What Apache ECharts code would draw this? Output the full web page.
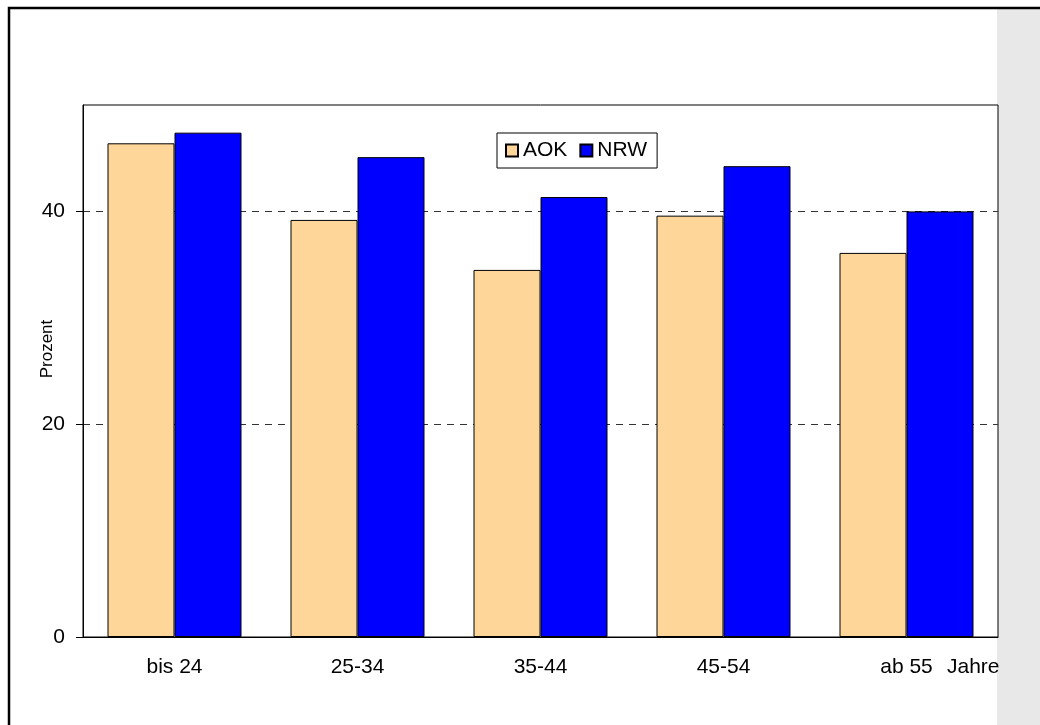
<!DOCTYPE html>
<html>
<head>
<meta charset="utf-8">
<script src="https://cdn.jsdelivr.net/npm/echarts@6/dist/echarts.min.js"></script>
<style>
  html, body { margin: 0; padding: 0; background: #fff; }
  #chart { width: 1040px; height: 725px; }
</style>
</head>
<body>
<div id="chart"></div>
<script>
// Age groups and the share (in percent) for AOK members and all of NRW
const categories = ['bis 24', '25-34', '35-44', '45-54', 'ab 55'];
const aokValues = [46.4, 39.2, 34.5, 39.6, 36.1];
const nrwValues = [47.4, 45.1, 41.35, 44.25, 40.0];
const yTickValues = [0, 20, 40];
const seriesNames = ['AOK', 'NRW'];
const unitLabel = 'Jahre';
const yTitle = 'Prozent';

const FONT = '"Liberation Sans", Arial, sans-serif';
const FS = 21;

const chart = echarts.init(document.getElementById('chart'), null, { renderer: 'canvas' });

chart.setOption({
  animation: false,
  backgroundColor: '#fff',
  textStyle: { fontFamily: FONT },
  graphic: [
    // grey strip along the right edge
    { type: 'rect', z: -10, shape: { x: 997, y: 9, width: 43, height: 716 }, style: { fill: '#e8e8e8' } },
    // outer frame (top and left edges)
    { type: 'polyline', z: 10, shape: { points: [[9, 725], [9, 8], [1040, 8]] },
      style: { stroke: '#000', lineWidth: 2.5, fill: null } },
    // unit label after the last category
    { type: 'text', z: 10, x: 947, y: 657,
      style: { text: unitLabel, font: FS + 'px ' + FONT, fill: '#000' } },
    // vertical axis title
    { type: 'text', z: 10, x: 47, y: 349, rotation: Math.PI / 2,
      style: { text: yTitle, font: '17px ' + FONT, fill: '#000', align: 'center', verticalAlign: 'middle' } }
  ],
  grid: {
    left: 83, right: 42, top: 105, bottom: 88,
    show: true, borderColor: '#000', borderWidth: 1, backgroundColor: '#fff'
  },
  legend: {
    data: seriesNames,
    left: 497, top: 133,
    padding: [7, 10, 7, 8],
    itemWidth: 12, itemHeight: 12, itemGap: 12,
    icon: 'rect',
    borderColor: '#000', borderWidth: 1,
    backgroundColor: '#fff',
    textStyle: { fontSize: FS, color: '#000', fontFamily: FONT }
  },
  xAxis: {
    type: 'category',
    data: categories,
    axisTick: { show: false },
    axisLine: { lineStyle: { color: '#000', width: 1 } },
    axisLabel: { fontSize: FS, color: '#000', margin: 20, fontFamily: FONT }
  },
  yAxis: {
    type: 'value',
    min: 0, max: 50, interval: 20,
    axisLine: { show: true, lineStyle: { color: '#000', width: 1 } },
    axisTick: { show: true, length: 7, customValues: yTickValues, lineStyle: { color: '#000' } },
    axisLabel: { fontSize: FS, color: '#000', margin: 18, customValues: yTickValues, fontFamily: FONT },
    splitLine: { show: true, lineStyle: { color: '#333', width: 1, type: [7, 6] } }
  },
  series: [
    {
      name: seriesNames[0], type: 'bar', data: aokValues,
      barWidth: 67, barGap: '0%',
      itemStyle: { color: '#FFD699', borderColor: '#000', borderWidth: 1 }
    },
    {
      name: seriesNames[1], type: 'bar', data: nrwValues,
      barWidth: 67, barGap: '0%',
      itemStyle: { color: '#0000FF', borderColor: '#000', borderWidth: 1 }
    }
  ]
});
</script>
</body>
</html>
